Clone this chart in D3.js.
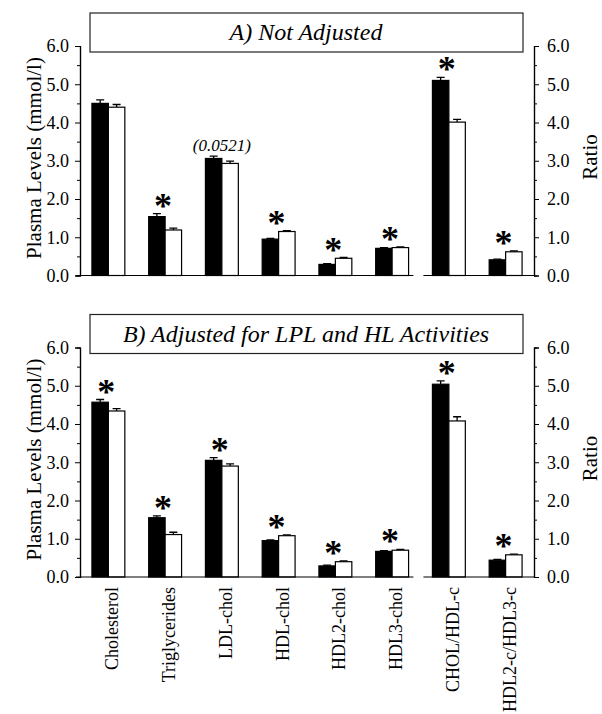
<!DOCTYPE html>
<html>
<head>
<meta charset="utf-8">
<script src="https://cdn.jsdelivr.net/npm/d3@7"></script>
<style>
  body { margin: 0; background: #fff; }
  text { font-family: "Liberation Serif", "Times New Roman", serif; fill: #000; }
</style>
</head>
<body>
<div id="container"></div>
<script>
let categories = ["Cholesterol", "Triglycerides", "LDL-chol", "HDL-chol", "HDL2-chol", "HDL3-chol", "CHOL/HDL-c", "HDL2-c/HDL3-c"];
let tickValues = [0, 1, 2, 3, 4, 5, 6];
let minorTicks = [0.5, 1.5, 2.5, 3.5, 4.5, 5.5];

// A) Not Adjusted
let notAdjBlack    = [4.50, 1.54, 3.06, 0.95, 0.29, 0.71, 5.10, 0.41];
let notAdjBlackErr = [0.09, 0.08, 0.06, 0.02, 0.02, 0.02, 0.08, 0.02];
let notAdjWhite    = [4.40, 1.19, 2.93, 1.15, 0.45, 0.73, 4.01, 0.62];
let notAdjWhiteErr = [0.07, 0.05, 0.06, 0.02, 0.02, 0.02, 0.07, 0.02];
let notAdjStars    = [false, true, false, true, true, true, true, true];
let notAdjNotes    = ["", "", "(0.0521)", "", "", "", "", ""];

// B) Adjusted for LPL and HL Activities
let adjBlack    = [4.57, 1.55, 3.05, 0.95, 0.29, 0.67, 5.04, 0.44];
let adjBlackErr = [0.07, 0.05, 0.07, 0.02, 0.02, 0.02, 0.09, 0.02];
let adjWhite    = [4.34, 1.11, 2.90, 1.08, 0.40, 0.70, 4.08, 0.58];
let adjWhiteErr = [0.06, 0.06, 0.06, 0.02, 0.02, 0.02, 0.11, 0.02];
let adjStars    = [true, true, true, true, true, true, true, true];
let adjNotes    = ["", "", "", "", "", "", "", ""];

let svg = d3.select("#container")
    .append("svg")
    .attr("width", 602)
    .attr("height", 714);

let x = d3.scaleBand()
    .domain(categories)
    .range([80, 534])
    .paddingInner(0.42)
    .paddingOuter(0.21);
let xs = d3.scaleBand()
    .domain(["black", "white"])
    .range([0, x.bandwidth()]);

drawPanel(0, "A) Not Adjusted", notAdjBlack, notAdjBlackErr, notAdjWhite, notAdjWhiteErr, notAdjStars, notAdjNotes);
drawPanel(301.5, "B) Adjusted for LPL and HL Activities", adjBlack, adjBlackErr, adjWhite, adjWhiteErr, adjStars, adjNotes);

// category labels under the bottom panel
svg.append("g")
    .selectAll("text")
    .data(categories)
    .enter()
    .append("text")
    .attr("transform", d => "translate(" + (x(d) + x.bandwidth() / 2 + 10) + ",587) rotate(-90)")
    .attr("text-anchor", "end")
    .attr("style", "font-size:18px")
    .text(d => d);

function drawPanel(oy, title, black, blackErr, white, whiteErr, stars, notes) {
    let y = d3.scaleLinear().domain([0, 6]).range([oy + 275.5, oy + 46]);
    let g = svg.append("g");

    // title box
    g.append("rect")
        .attr("x", 90).attr("y", oy + 13)
        .attr("width", 433).attr("height", 39)
        .attr("fill", "#fff").attr("stroke", "#222").attr("stroke-width", 1.2);
    g.append("text")
        .attr("x", 306).attr("y", oy + 40)
        .attr("text-anchor", "middle")
        .attr("style", "font-size:24px;font-style:italic")
        .text(title);

    // bars
    let rows = categories.map((c, i) => ({
        cat: c,
        bars: [
            { key: "black", v: black[i], e: blackErr[i] },
            { key: "white", v: white[i], e: whiteErr[i] }
        ],
        star: stars[i],
        note: notes[i]
    }));

    let groups = g.selectAll("g.grp")
        .data(rows)
        .enter()
        .append("g")
        .attr("transform", d => "translate(" + x(d.cat) + ",0)");

    groups.selectAll("path.err")
        .data(d => d.bars)
        .enter()
        .append("path")
        .attr("d", d => {
            let cx = xs(d.key) + xs.bandwidth() / 2;
            return "M" + cx + "," + y(d.v) + "V" + y(d.v + d.e) +
                "M" + (cx - 4) + "," + y(d.v + d.e) + "H" + (cx + 4);
        })
        .attr("stroke", "#000").attr("stroke-width", 1.3).attr("fill", "none");

    groups.selectAll("rect")
        .data(d => d.bars)
        .enter()
        .append("rect")
        .attr("x", d => xs(d.key))
        .attr("y", d => y(d.v))
        .attr("width", xs.bandwidth())
        .attr("height", d => y(0) - y(d.v))
        .attr("fill", d => d.key === "black" ? "#000" : "#fff")
        .attr("stroke", "#000")
        .attr("stroke-width", 1.2);

    groups.filter(d => d.star)
        .append("text")
        .attr("x", x.bandwidth() / 2 - 2)
        .attr("y", d => d3.min(d.bars, b => y(b.v + b.e)) + 4)
        .attr("text-anchor", "middle")
        .attr("style", "font-size:36px;font-weight:bold")
        .text("*");

    groups.filter(d => d.note)
        .append("text")
        .attr("x", x.bandwidth() / 2)
        .attr("y", d => d3.min(d.bars, b => y(b.v + b.e)) - 5)
        .attr("text-anchor", "middle")
        .attr("style", "font-size:17px;font-style:italic")
        .text(d => d.note);

    // baseline, broken between the levels and the ratios
    let split = x("CHOL/HDL-c");
    g.append("path")
        .attr("d", "M76," + y(0) + "H" + (split - 19) + "M" + (split - 9) + "," + y(0) + "H534")
        .attr("stroke", "#000").attr("stroke-width", 1.2).attr("fill", "none");

    // left axis
    let left = g.append("g").attr("transform", "translate(80,0)");
    left.call(d3.axisLeft(y).tickValues(tickValues).tickSize(5).tickFormat(d3.format(".1f")));
    left.append("g").call(d3.axisLeft(y).tickValues(minorTicks).tickSize(3).tickFormat(""));
    // right axis
    let right = g.append("g").attr("transform", "translate(534,0)");
    right.call(d3.axisRight(y).tickValues(tickValues).tickSize(5).tickFormat(d3.format(".1f")));
    right.append("g").call(d3.axisRight(y).tickValues(minorTicks).tickSize(3).tickFormat(""));

    g.selectAll(".domain").attr("stroke", "#000").attr("stroke-width", 1.2);
    g.selectAll(".tick line").attr("stroke", "#000");
    left.selectAll(".tick text")
        .attr("x", -11)
        .attr("style", "font-size:18px;font-family:'Liberation Serif',serif");
    right.selectAll(".tick text")
        .attr("x", 13)
        .attr("style", "font-size:18px;font-family:'Liberation Serif',serif");

    // axis titles
    g.append("text")
        .attr("transform", "translate(41," + (oy + 158) + ") rotate(-90)")
        .attr("text-anchor", "middle")
        .attr("style", "font-size:21px")
        .text("Plasma Levels (mmol/l)");
    g.append("text")
        .attr("transform", "translate(597," + (oy + 157) + ") rotate(-90)")
        .attr("text-anchor", "middle")
        .attr("style", "font-size:21px")
        .text("Ratio");
}
</script>
</body>
</html>
